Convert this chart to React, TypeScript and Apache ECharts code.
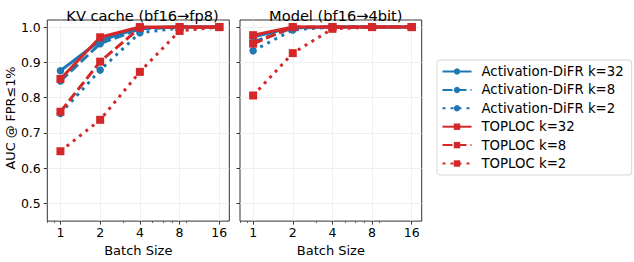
import React, { useEffect, useRef } from "react";
import * as echarts from "echarts";

const batchSizes = [1, 2, 4, 8, 16];
const xTickValues = [1, 2, 4, 8, 16];
const xMinorTickValues = [0.8, 0.9, 3, 5, 6, 7, 9];
const yTickValues = [0.5, 0.6, 0.7, 0.8, 0.9, 1.0];

const kvDifr32 = [0.876, 0.962, 0.998, 1.0, 1.0];
const kvDifr8 = [0.847, 0.953, 0.995, 1.0, 1.0];
const kvDifr2 = [0.755, 0.878, 0.984, 0.997, 1.0];
const kvToploc32 = [0.853, 0.971, 1.0, 1.0, 1.0];
const kvToploc8 = [0.76, 0.902, 0.998, 1.0, 1.0];
const kvToploc2 = [0.648, 0.737, 0.873, 0.989, 1.0];

const modelDifr32 = [0.972, 0.999, 1.0, 1.0, 1.0];
const modelDifr8 = [0.958, 0.997, 1.0, 1.0, 1.0];
const modelDifr2 = [0.933, 0.992, 1.0, 1.0, 1.0];
const modelToploc32 = [0.977, 1.0, 1.0, 1.0, 1.0];
const modelToploc8 = [0.953, 1.0, 1.0, 1.0, 1.0];
const modelToploc2 = [0.806, 0.926, 0.995, 1.0, 1.0];

const panelTitles = ["KV cache (bf16→fp8)", "Model (bf16→4bit)"];
const yAxisTitle = "AUC @ FPR≤1%";
const xAxisTitle = "Batch Size";
const seriesNames = [
  "Activation-DiFR k=32",
  "Activation-DiFR k=8",
  "Activation-DiFR k=2",
  "TOPLOC k=32",
  "TOPLOC k=8",
  "TOPLOC k=2",
];

const BLUE = "#1f77b4";
const RED = "#d62728";
const FONT = "DejaVu Sans";
const X_MIN = 0.795;
const X_MAX = 19.05;

export default function App() {
  const ref = useRef<HTMLDivElement>(null);
  useEffect(() => {
    if (!ref.current) return;
    const chart = echarts.init(ref.current, null, { renderer: "svg" });
    const panels = [
      [kvDifr32, kvDifr8, kvDifr2, kvToploc32, kvToploc8, kvToploc2],
      [modelDifr32, modelDifr8, modelDifr2, modelToploc32, modelToploc8, modelToploc2],
    ];
    const styles = [
      { color: BLUE, type: "solid", symbol: "circle", size: 7.5 },
      { color: BLUE, type: [10, 4], symbol: "circle", size: 7.5 },
      { color: BLUE, type: [3, 5], symbol: "circle", size: 7.5 },
      { color: RED, type: "solid", symbol: "rect", size: 8 },
      { color: RED, type: [10, 4], symbol: "rect", size: 8 },
      { color: RED, type: [3, 5], symbol: "rect", size: 8 },
    ];
    const series: any[] = [];
    panels.forEach((panel, p) => {
      panel.forEach((vals, i) => {
        const s = styles[i];
        series.push({
          type: "line",
          name: seriesNames[i],
          xAxisIndex: p,
          yAxisIndex: p,
          data: batchSizes.map((b, j) => [b, vals[j]]),
          symbol: s.symbol,
          symbolSize: s.size,
          itemStyle: { color: s.color },
          lineStyle: { color: s.color, width: 3, type: s.type, cap: "butt" },
          emphasis: { disabled: true },
        });
      });
    });
    const grids = [
      { left: 47.3, top: 20, width: 182, height: 202 },
      { left: 240, top: 20, width: 181.7, height: 202 },
    ];
    const xAxes: any[] = grids.map((_, i) => ({
      type: "log",
      logBase: 2,
      gridIndex: i,
      min: X_MIN,
      max: X_MAX,
      name: xAxisTitle,
      nameLocation: "middle",
      nameGap: 20,
      nameTextStyle: { fontFamily: FONT, fontSize: 13, color: "#000" },
      axisLine: { show: false },
      axisTick: { show: true, length: 3.5, lineStyle: { color: "#333" }, customValues: xTickValues },
      axisLabel: {
        fontFamily: FONT,
        fontSize: 12.5,
        color: "#000",
        margin: 5,
        customValues: xTickValues,
        formatter: (v: number) => String(Math.round(v)),
      },
      splitLine: { show: true, lineStyle: { color: "#ebebeb", width: 0.8 } },
    }));
    grids.forEach((_, i) => {
      xAxes.push({
        type: "log",
        logBase: 2,
        gridIndex: i,
        min: X_MIN,
        max: X_MAX,
        position: "bottom",
        axisLine: { show: false },
        axisTick: { show: true, length: 2, lineStyle: { color: "#333", width: 0.7 }, customValues: xMinorTickValues },
        axisLabel: { show: false },
        splitLine: { show: false },
      });
    });
    const yAxes = grids.map((_, i) => ({
      type: "value",
      gridIndex: i,
      min: 0.45,
      max: 1.02,
      axisLine: { show: false },
      axisTick: { show: true, length: 3.5, lineStyle: { color: "#333" }, customValues: yTickValues },
      axisLabel: {
        show: i === 0,
        fontFamily: FONT,
        fontSize: 12.5,
        color: "#000",
        margin: 6.5,
        customValues: yTickValues,
        formatter: (v: number) => v.toFixed(1),
      },
      splitLine: { show: true, lineStyle: { color: "#ebebeb", width: 0.8 } },
    }));
    chart.setOption({
      animation: false,
      backgroundColor: "#fff",
      title: [
        {
          text: panelTitles[0],
          left: 137.5,
          top: 3,
          textAlign: "center",
          textStyle: { fontFamily: FONT, fontSize: 14.6, fontWeight: "normal", color: "#000" },
        },
        {
          text: panelTitles[1],
          left: 330.8,
          top: 3,
          textAlign: "center",
          textStyle: { fontFamily: FONT, fontSize: 14.6, fontWeight: "normal", color: "#000" },
        },
      ],
      graphic: [
        {
          type: "text",
          x: 10.5,
          y: 118,
          rotation: Math.PI / 2,
          style: {
            text: yAxisTitle,
            fontFamily: FONT,
            fontSize: 12.8,
            fill: "#000",
            align: "center",
            verticalAlign: "middle",
          },
        },
      ],
      grid: grids.map((g) => ({ ...g, show: true, borderColor: "#333", borderWidth: 1, backgroundColor: "transparent" })),
      xAxis: xAxes,
      yAxis: yAxes,
      legend: {
        orient: "vertical",
        left: 437,
        top: 60,
        padding: [5, 8, 5, 4.5],
        itemGap: 5.4,
        itemWidth: 29,
        itemHeight: 8,
        borderColor: "#d5d5d5",
        borderWidth: 1,
        borderRadius: 3,
        data: seriesNames,
        textStyle: { fontFamily: FONT, fontSize: 13.3, color: "#000", padding: [0, 0, 0, 5] },
      },
      series,
    });
    return () => chart.dispose();
  }, []);
  return <div ref={ref} style={{ position: "fixed", left: 0, top: 0, width: 634, height: 262 }} />;
}
